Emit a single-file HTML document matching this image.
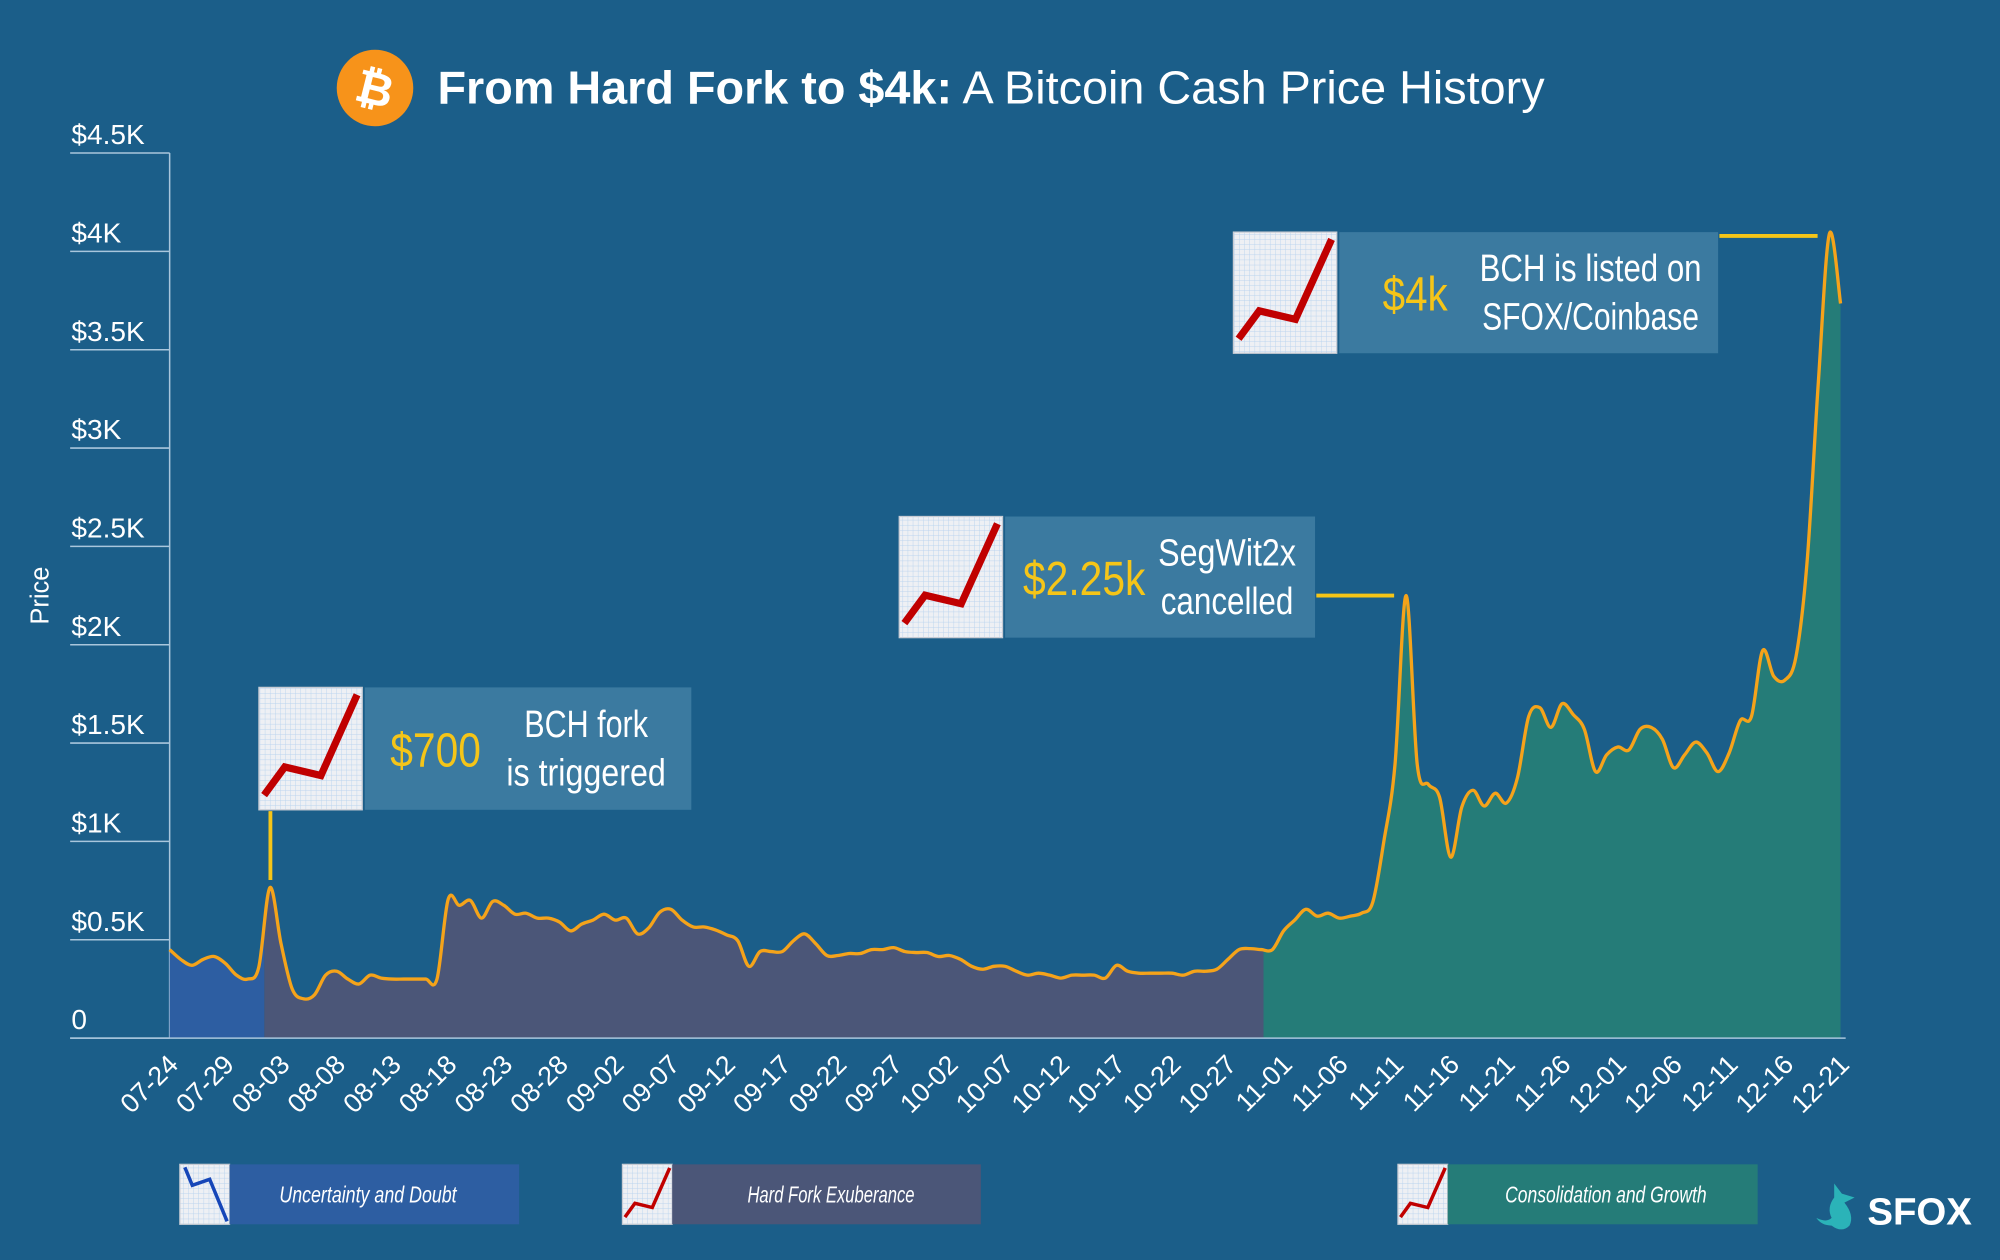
<!DOCTYPE html>
<html><head><meta charset="utf-8">
<style>
html,body{margin:0;padding:0;background:#1b5e89;}
svg{display:block;font-family:"Liberation Sans Narrow","Liberation Sans",sans-serif;}
</style></head>
<body>
<svg id="chart" width="2000" height="1260" viewBox="0 0 1568 988" preserveAspectRatio="none" xmlns="http://www.w3.org/2000/svg">
<defs>
<pattern id="grid" width="4" height="4" patternUnits="userSpaceOnUse">
<rect width="4" height="4" fill="#eef0f4"/>
<path d="M4 0V4M0 4H4" stroke="#b9d3ee" stroke-width="0.7"/>
</pattern>
</defs>
<rect width="1568" height="988" fill="#1b5e89"/>
<g>
<circle cx="294" cy="69" r="30" fill="#f7931a"/>
<text x="294" y="82" font-size="36" font-weight="bold" fill="#fff" text-anchor="middle" transform="rotate(14 294 69)" font-family="Liberation Sans,sans-serif">₿</text>
<text x="343" y="81" font-size="36" fill="#fff" font-family="Liberation Sans,sans-serif" textLength="868" lengthAdjust="spacingAndGlyphs"><tspan font-weight="bold">From Hard Fork to $4k:</tspan> A Bitcoin Cash Price History</text>
</g>
<text x="38" y="467" font-size="20" fill="#fff" text-anchor="middle" transform="rotate(-90 38 467)" font-family="Liberation Sans,sans-serif">Price</text>
<g id="yaxis"></g>
<g id="areas"></g>
<path id="line" fill="none" stroke="#f5a31a" stroke-width="2.6" stroke-linejoin="round"/>
<g id="xaxis"></g>
<g id="callouts"></g>
<g id="legend"></g>
<g>
<path d="M1438 928 l6 8 l10 3 l-8 4 q8 10 4 18 q-6 6 -14 0 q-8 0 -12 -6 q8 4 12 0 q-4 -8 2 -16 z" fill="#2bb3b8"/>
<text x="1464" y="960" font-size="30" font-weight="bold" fill="#fff" font-family="Liberation Sans,sans-serif" textLength="82" lengthAdjust="spacingAndGlyphs">SFOX</text>
</g>
</svg>
<script>
const yTicks = [0, 500, 1000, 1500, 2000, 2500, 3000, 3500, 4000, 4500];
const yTickLabels = ["0", "$0.5K", "$1K", "$1.5K", "$2K", "$2.5K", "$3K", "$3.5K", "$4K", "$4.5K"];
const xTickLabels = ["07-24","07-29","08-03","08-08","08-13","08-18","08-23","08-28","09-02","09-07","09-12","09-17","09-22","09-27","10-02","10-07","10-12","10-17","10-22","10-27","11-01","11-06","11-11","11-16","11-21","11-26","12-01","12-06","12-11","12-16","12-21"];
const prices = [450,400,370,400,415,380,320,300,360,765,480,250,200,220,320,340,300,275,320,305,300,300,300,300,300,705,675,700,610,695,675,630,635,610,610,590,545,580,600,630,600,610,530,560,640,655,600,565,565,550,525,495,365,440,440,440,495,530,480,420,420,430,430,450,450,460,440,435,435,415,420,400,365,350,365,365,340,320,330,320,305,320,320,320,305,370,340,330,330,330,330,320,340,340,350,400,450,455,450,450,545,600,655,620,635,610,620,635,690,1000,1390,2250,1390,1290,1225,920,1175,1260,1180,1245,1195,1325,1635,1680,1580,1700,1645,1570,1355,1440,1480,1465,1570,1580,1520,1375,1440,1505,1450,1355,1450,1615,1635,1970,1840,1820,1940,2425,3330,4090,3735];
const phaseNames = ["Uncertainty and Doubt","Hard Fork Exuberance","Consolidation and Growth"];
const phaseStarts = [0, 8.5, 98.2];
const phaseEnds = [8.5, 98.2, 150];
const phaseColors = ["#2d5ea2","#4b5678","#257c78"];

const NS="http://www.w3.org/2000/svg";
const X0=133,X1=1443,Y0=814,Y1=120,YMAX=4500,NDAYS=150;
const xs=d=>X0+(X1-X0)*d/NDAYS;
const ys=v=>Y0-(Y0-Y1)*v/YMAX;
function mk(tag,attrs,parent){const e=document.createElementNS(NS,tag);for(const k in attrs)e.setAttribute(k,attrs[k]);parent.appendChild(e);return e;}

const ya=document.getElementById('yaxis');
mk('line',{x1:X0,y1:Y1,x2:X0,y2:Y0,stroke:'#a9c6dc','stroke-width':1.2},ya);
yTicks.forEach((v,i)=>{
  const l=mk('line',{x1:55,x2:X0,y1:ys(v),y2:ys(v),stroke:'#a9c6dc','stroke-width':1.2},ya);
  
  
  const t=mk('text',{x:56,y:ys(v)-7,'font-size':22,fill:'#fff'},ya);
  
  
  t.textContent=yTickLabels[i];
});

function smooth(pts){
  let d=`M${pts[0][0]},${pts[0][1]}`;
  for(let i=0;i<pts.length-1;i++){
    const p0=pts[i-1]||pts[i],p1=pts[i],p2=pts[i+1],p3=pts[i+2]||p2;
    const c1x=p1[0]+(p2[0]-p0[0])/6,c1y=p1[1]+(p2[1]-p0[1])/6;
    const c2x=p2[0]-(p3[0]-p1[0])/6,c2y=p2[1]-(p3[1]-p1[1])/6;
    d+=` C${c1x},${c1y} ${c2x},${c2y} ${p2[0]},${p2[1]}`;
  }
  return d;
}
function valAt(d){const i=Math.floor(d),f=d-i;if(i>=prices.length-1)return prices[prices.length-1];return prices[i]*(1-f)+prices[i+1]*f;}

const ar=document.getElementById('areas');
phaseStarts.forEach((s,k)=>{
  const e=phaseEnds[k];
  const pts=[[xs(s),ys(valAt(s))]];
  for(let d=Math.ceil(s);d<e;d++){ if(d>s) pts.push([xs(d),ys(prices[d])]); }
  pts.push([xs(e),ys(valAt(e))]);
  const d=smooth(pts)+` L${xs(e)},${Y0} L${xs(s)},${Y0} Z`;
  const p=mk('path',{d:d,fill:phaseColors[k]},ar);
  
  
});
document.getElementById('line').setAttribute('d',smooth(prices.map((v,i)=>[xs(i),ys(v)])));

const xa=document.getElementById('xaxis');
mk('line',{x1:55,x2:X1+4,y1:Y0,y2:Y0,stroke:'#a9c6dc','stroke-width':1.2},xa);
xTickLabels.forEach((lab,i)=>{
  const x=xs(i*5);
  const t=mk('text',{x:x+8,y:Y0+22,'font-size':21,fill:'#fff','text-anchor':'end',transform:`rotate(-45 ${x+8} ${Y0+22})`,'font-family':'Liberation Sans,sans-serif'},xa);
  
  
  t.textContent=lab;
});

function icon(parent,x,y,w,h,up,color){
  const g=mk('g',{},parent);
  
  
  mk('rect',{x:x,y:y,width:w,height:h,fill:'url(#grid)',stroke:'#c8ccd4','stroke-width':1},g);
  let pts;
  if(up) pts=[[0.05,0.88],[0.25,0.65],[0.6,0.72],[0.95,0.06]];
  else pts=[[0.1,0.05],[0.25,0.35],[0.6,0.25],[0.95,0.95]];
  mk('polyline',{points:pts.map(p=>`${x+p[0]*w},${y+p[1]*h}`).join(' '),fill:'none',stroke:color,'stroke-width':w*0.07,'stroke-linejoin':'miter'},g);
}
function fitText(parent,x,y,w,size,fill,str){
  const t=mk('text',{x:x,y:y,'font-size':size,fill:fill,textLength:w,lengthAdjust:'spacingAndGlyphs'},parent);
  t.textContent=str;return t;
}
const co=document.getElementById('callouts');
const callouts=[
 {ix:203,iy:539,pw:256,ph:96,price:"$700",pxs:[306,71],l1:"BCH fork",a:[411,97],l2:"is triggered",b:[397,125]},
 {ix:705,iy:405,pw:243,ph:95,price:"$2.25k",pxs:[802,96],l1:"SegWit2x",a:[908,108],l2:"cancelled",b:[910,104]},
 {ix:967,iy:182,pw:297,ph:95,price:"$4k",pxs:[1084,51],l1:"BCH is listed on",a:[1160,174],l2:"SFOX/Coinbase",b:[1162,170]}
];
callouts.forEach(c=>{
  const g=mk('g',{},co);
  
  
  icon(g,c.ix,c.iy,81,c.ph,true,'#c00000');
  mk('rect',{x:c.ix+83,y:c.iy,width:c.pw,height:c.ph,fill:'#3b7aa0'},g);
  fitText(g,c.pxs[0],c.iy+c.ph/2+14,c.pxs[1],38,'#f5c518',c.price);
  fitText(g,c.a[0],c.iy+c.ph/2-9,c.a[1],30,'#fff',c.l1);
  fitText(g,c.b[0],c.iy+c.ph/2+29,c.b[1],30,'#fff',c.l2);
});
[[212,636,212,690],[1032,467,1093,467],[1348,185,1425,185]].forEach(l=>{
  const e=mk('line',{x1:l[0],y1:l[1],x2:l[2],y2:l[3],stroke:'#f5c518','stroke-width':3},co);
  
  
});

const lg=document.getElementById('legend');
const legX=[141,488,1096],legW=[227,242,243],legUp=[false,true,true],legCol=['#1646b8','#c00000','#c00000'];
const legTx=[[219,139],[586,131],[1180,158]];
phaseNames.forEach((n,k)=>{
  const g=mk('g',{},lg);
  
  
  icon(g,legX[k],913,39,47,legUp[k],legCol[k]);
  mk('rect',{x:legX[k]+39,y:913,width:legW[k],height:47,fill:phaseColors[k]},g);
  const t=fitText(g,legTx[k][0],943,legTx[k][1],18,'#fff',n);
  t.setAttribute('font-style','italic');
});
</script>
</body></html>
